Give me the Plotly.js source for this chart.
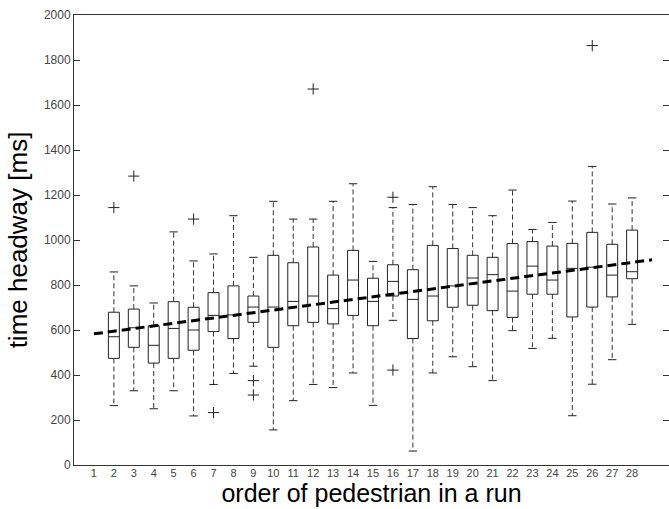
<!DOCTYPE html>
<html>
<head>
<meta charset="utf-8">
<script src="https://cdn.plot.ly/plotly-3.0.1.min.js"></script>
<style>html,body{margin:0;padding:0;background:#fff;}#chart{width:669px;height:509px;}</style>
</head>
<body>
<div id="chart"></div>
<script>
// Order of pedestrian (box positions)
var positions = [2,3,4,5,6,7,8,9,10,11,12,13,14,15,16,17,18,19,20,21,22,23,24,25,26,27,28];
// Box statistics (ms)
var upperWhisker = [858,796,720,1036,907,938,1108,923,1172,1093,1093,1172,1250,905,1144,1158,1237,1158,1144,1108,1222,1047,1078,1173,1327,1160,1187];
var q3Values     = [679,693,619,726,701,766,796,751,932,899,969,844,954,830,890,868,976,962,932,923,984,993,973,985,1034,981,1044];
var medianValues = [570,610,532,607,600,665,667,702,702,727,751,695,822,727,816,736,751,796,831,846,773,884,822,874,879,844,859];
var q1Values     = [474,523,453,474,510,593,562,634,523,619,634,627,665,619,751,562,641,701,710,686,656,759,759,658,702,747,828];
var lowerWhisker = [264,330,250,330,218,358,407,439,156,286,358,344,409,265,643,62,409,481,437,375,597,518,563,219,359,468,625];
// Outliers
var outlierX = [2,3,6,7,9,9,12,16,16,26];
var outlierY = [1144,1284,1093,233,375,311,1671,1190,422,1864];
// Linear trend
var trendX = [1,29];
var trendY = [583,912];
// Tick labels
var xTickVals = [];
var xTickText = [];
for (var i = 1; i <= 28; i++) { xTickVals.push(i); xTickText.push(String(i)); }

var whiskX = [], whiskY = [], capX = [], capY = [];
for (var k = 0; k < positions.length; k++) {
  var p = positions[k];
  whiskX.push(p, p, null, p, p, null);
  whiskY.push(q3Values[k], upperWhisker[k], null, q1Values[k], lowerWhisker[k], null);
  capX.push(p, p);
  capY.push(upperWhisker[k], lowerWhisker[k]);
}

var ink = '#222';
var traces = [
  {
    type: 'scatter', mode: 'lines', x: whiskX, y: whiskY,
    line: {color: '#333', width: 1, dash: '5px,3px'}, hoverinfo: 'skip', showlegend: false
  },
  {
    type: 'scatter', mode: 'markers', x: capX, y: capY,
    marker: {symbol: 'line-ew', size: 6, color: ink, line: {color: ink, width: 1}},
    hoverinfo: 'skip', showlegend: false
  },
  {
    type: 'box', x: positions, q1: q1Values, median: medianValues, q3: q3Values,
    lowerfence: q1Values, upperfence: q3Values, width: 0.55, whiskerwidth: 0,
    boxpoints: false, line: {color: ink, width: 1}, fillcolor: 'rgba(255,255,255,0)',
    hoverinfo: 'skip', showlegend: false
  },
  {
    type: 'scatter', mode: 'markers', x: outlierX, y: outlierY,
    marker: {symbol: 'cross-thin', size: 8, color: ink, line: {color: ink, width: 1}},
    hoverinfo: 'skip', showlegend: false
  },
  {
    type: 'scatter', mode: 'lines', x: trendX, y: trendY,
    line: {color: '#000', width: 3, dash: '9px,5px'}, hoverinfo: 'skip', showlegend: false
  },
  {
    type: 'scatter', mode: 'markers', x: [], y: [], yaxis: 'y2', hoverinfo: 'skip', showlegend: false
  }
];

var tickFont = {family: 'Liberation Sans, Arial, sans-serif', size: 12, color: '#444'};
var xTickFont = {family: 'Liberation Sans, Arial, sans-serif', size: 11, color: '#444'};
var layout = {
  width: 669, height: 509,
  margin: {l: 74, r: 0, t: 15, b: 44, pad: 0},
  paper_bgcolor: '#fff', plot_bgcolor: '#fff',
  showlegend: false, hovermode: false,
  xaxis: {
    range: [0, 29.85], tickvals: xTickVals, ticktext: xTickText, ticks: '',
    showline: true, linecolor: '#333', linewidth: 1, mirror: true,
    showgrid: false, zeroline: false, tickfont: xTickFont, automargin: false,
    ticklabelstandoff: -2,
    title: {text: 'order of pedestrian in a run', font: {family: 'Liberation Sans, Arial, sans-serif', size: 25, color: '#000'}, standoff: 4}
  },
  yaxis: {
    range: [0, 2000], dtick: 200, tick0: 0, ticks: 'inside', ticklen: 6, tickcolor: '#333',
    showline: true, linecolor: '#333', linewidth: 1,
    showgrid: false, zeroline: false, tickfont: tickFont, automargin: false,
    title: {text: 'time headway [ms]', font: {family: 'Liberation Sans, Arial, sans-serif', size: 26, color: '#000'}, standoff: 8}
  },
  yaxis2: {
    overlaying: 'y', side: 'right', matches: 'y', range: [0, 2000], dtick: 200, tick0: 0,
    ticks: 'inside', ticklen: 6, tickcolor: '#333', showticklabels: false,
    showline: false, showgrid: false, zeroline: false, automargin: false
  }
};

Plotly.newPlot('chart', traces, layout, {staticPlot: true, displayModeBar: false});
</script>
</body>
</html>
